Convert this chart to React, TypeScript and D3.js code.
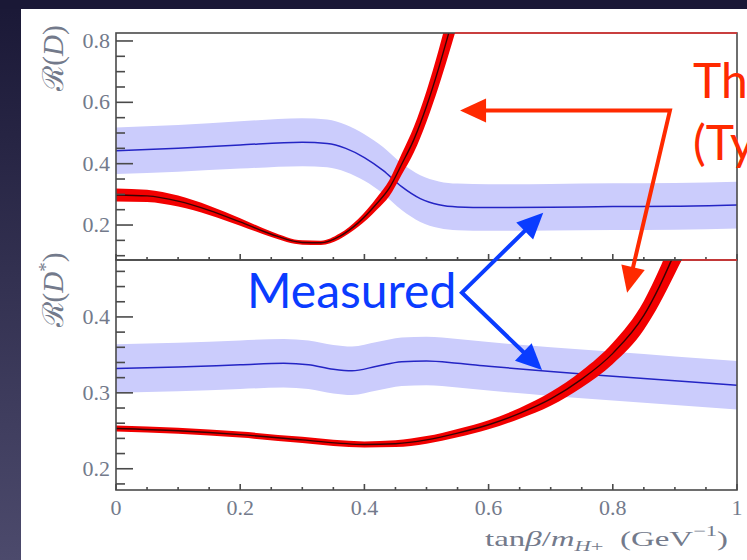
import React from 'react';
import * as d3 from 'd3';

// R(D) panel (top)
const upperMeasX = [0, 0.1, 0.2, 0.3, 0.34, 0.37, 0.4, 0.43, 0.46, 0.49, 0.52, 0.55, 0.6, 0.7, 0.8, 0.9, 1];
const upperMeasY = [0.442, 0.45, 0.461, 0.47, 0.466, 0.45, 0.42, 0.378, 0.325, 0.286, 0.266, 0.259, 0.257, 0.258, 0.26, 0.261, 0.265];
const upperMeasErr = [0.076, 0.076, 0.077, 0.078, 0.078, 0.077, 0.076, 0.076, 0.076, 0.076, 0.076, 0.076, 0.076, 0.076, 0.076, 0.076, 0.076];

const upperTheoX = [0, 0.05, 0.1, 0.15, 0.2, 0.25, 0.3, 0.33, 0.36, 0.39, 0.42, 0.44, 0.46, 0.48, 0.5, 0.52, 0.535, 0.55, 0.57];
const upperTheoY = [0.298, 0.295, 0.278, 0.248, 0.21, 0.17, 0.143, 0.142, 0.163, 0.207, 0.27, 0.32, 0.398, 0.48, 0.587, 0.714, 0.82, 0.93, 1.08];
const upperTheoErr = [0.021, 0.02, 0.018, 0.015, 0.012, 0.009, 0.007, 0.007, 0.009, 0.013, 0.02, 0.026, 0.034, 0.042, 0.05, 0.06, 0.068, 0.076, 0.088];

// R(D*) panel (bottom)
const lowerMeasX = [0, 0.1, 0.2, 0.27, 0.31, 0.35, 0.38, 0.42, 0.46, 0.5, 0.55, 0.6, 0.7, 0.8, 0.9, 1];
const lowerMeasY = [0.332, 0.334, 0.337, 0.339, 0.337, 0.331, 0.329, 0.335, 0.341, 0.342, 0.339, 0.335, 0.328, 0.322, 0.316, 0.31];
const lowerMeasErr = [0.032, 0.032, 0.032, 0.032, 0.032, 0.032, 0.032, 0.032, 0.032, 0.032, 0.032, 0.032, 0.032, 0.032, 0.032, 0.032];

const lowerTheoX = [0, 0.1, 0.2, 0.3, 0.4, 0.45, 0.5, 0.55, 0.6, 0.65, 0.7, 0.75, 0.8, 0.85, 0.875, 0.9, 0.93];
const lowerTheoY = [0.253, 0.25, 0.245, 0.238, 0.232, 0.233, 0.238, 0.247, 0.258, 0.273, 0.292, 0.318, 0.352, 0.402, 0.44, 0.485, 0.54];
const lowerTheoErr = [0.004, 0.004, 0.004, 0.004, 0.004, 0.0045, 0.005, 0.0055, 0.006, 0.007, 0.009, 0.011, 0.014, 0.019, 0.023, 0.028, 0.034];

const xTicks = [0, 0.2, 0.4, 0.6, 0.8, 1];
const xTickLabels = ['0', '0.2', '0.4', '0.6', '0.8', '1'];
const upperYTicks = [0.2, 0.4, 0.6, 0.8];
const upperYLabels = ['0.2', '0.4', '0.6', '0.8'];
const lowerYTicks = [0.2, 0.3, 0.4];
const lowerYLabels = ['0.2', '0.3', '0.4'];

// annotation anchors, in data coordinates
const redArrowCorner = { x: 0.892, y: 0.573 }; // upper panel
const redArrowTipUpper = { x: 0.554, y: 0.573 }; // upper panel
const redArrowTipLower = { x: 0.823, y: 0.432 }; // lower panel
const blueVertex = { x: 0.557, y: 0.432 }; // lower panel
const blueTipUpper = { x: 0.688, y: 0.24 }; // upper panel
const blueTipLower = { x: 0.686, y: 0.33 }; // lower panel

const W = 747;
const H = 560;
const F = { left: 116, right: 737, top: 33, mid: 260, bottom: 490 };

const LABEL = '#737a8b';
const AXIS = '#4a4a4a';
const RED = '#ff2a00';
const BLUE = '#0a3cff';
const SERIF = '"Liberation Serif", "DejaVu Serif", serif';
const SANS = "Lato, 'Open Sans', sans-serif";

const xScale = d3.scaleLinear().domain([0, 1]).range([F.left, F.right]);
const yUpper = d3.scaleLinear().domain([0.086, 0.826]).range([F.mid, F.top]);
const yLower = d3.scaleLinear().domain([0.172, 0.475]).range([F.bottom, F.mid]);

const arrowHead = (x1: number, y1: number, x2: number, y2: number, len = 26, half = 12) => {
  const a = Math.atan2(y2 - y1, x2 - x1);
  const bx = x2 - len * Math.cos(a);
  const by = y2 - len * Math.sin(a);
  const px = -Math.sin(a) * half;
  const py = Math.cos(a) * half;
  return `M${x2},${y2}L${bx + px},${by + py}L${bx - px},${by - py}Z`;
};

type PanelProps = {
  id: string;
  y: d3.ScaleLinear<number, number>;
  top: number;
  bottom: number;
  measX: number[]; measY: number[]; measErr: number[];
  theoX: number[]; theoY: number[]; theoErr: number[];
  majors: number[]; labels: string[];
  minorStart: number; minorStep: number;
};

const Panel = (p: PanelProps) => {
  const idx = (a: number[]) => a.map((_, i) => i);
  const band = (xs: number[], ys: number[], es: number[]) =>
    d3.area<number>()
      .x(i => xScale(xs[i]))
      .y0(i => p.y(ys[i] - es[i]))
      .y1(i => p.y(ys[i] + es[i]))
      .curve(d3.curveMonotoneX)(idx(xs)) || '';
  const line = (xs: number[], ys: number[]) =>
    d3.line<number>()
      .x(i => xScale(xs[i]))
      .y(i => p.y(ys[i]))
      .curve(d3.curveMonotoneX)(idx(xs)) || '';

  // where the lower edge of the theory band leaves the frame
  const topVal = p.y.domain()[1];
  let exitX = 1;
  for (let i = 1; i < p.theoX.length; i++) {
    const a = p.theoY[i - 1] - p.theoErr[i - 1];
    const b = p.theoY[i] - p.theoErr[i];
    if (a < topVal && b >= topVal) {
      exitX = p.theoX[i - 1] + (p.theoX[i] - p.theoX[i - 1]) * (topVal - a) / (b - a);
      break;
    }
  }

  const minors = d3.range(p.minorStart, topVal, p.minorStep).map(v => Math.round(v * 1000) / 1000);
  const xMinors = d3.range(0, 1.0001, 0.05).map(v => Math.round(v * 100) / 100);

  return (
    <g>
      <defs>
        <clipPath id={p.id}>
          <rect x={F.left} y={p.top} width={F.right - F.left} height={p.bottom - p.top} />
        </clipPath>
      </defs>
      <g clipPath={`url(#${p.id})`}>
        <path d={band(p.measX, p.measY, p.measErr)} fill="#cbccfc" />
        <path d={line(p.measX, p.measY)} fill="none" stroke="#2424c4" strokeWidth={1.5} />
        <path d={band(p.theoX, p.theoY, p.theoErr)} fill="#f20000" />
        <path d={line(p.theoX, p.theoY)} fill="none" stroke="#1a0404" strokeWidth={1.4} strokeOpacity={0.85} />
      </g>
      <rect x={F.left} y={p.top} width={F.right - F.left} height={p.bottom - p.top}
        fill="none" stroke={AXIS} strokeWidth={1.6} />
      <line x1={xScale(exitX)} x2={F.right} y1={p.top} y2={p.top} stroke="#e83030" strokeWidth={1.6} />
      {minors.map(v => {
        const major = p.majors.some(m => Math.abs(m - v) < 1e-6);
        return (
          <line key={v} x1={F.left} x2={F.left + (major ? 17 : 9)} y1={p.y(v)} y2={p.y(v)}
            stroke={AXIS} strokeWidth={1.6} />
        );
      })}
      {xMinors.map(v => {
        const major = xTicks.some(m => Math.abs(m - v) < 1e-6);
        return (
          <line key={v} x1={xScale(v)} x2={xScale(v)} y1={p.bottom} y2={p.bottom - (major ? 6 : 3)}
            stroke={AXIS} strokeWidth={1.6} />
        );
      })}
      {p.majors.map((v, i) => (
        <text key={v} x={110} y={p.y(v) + 7} textAnchor="end" fontSize={22} fontFamily={SERIF} fill={LABEL}>
          {p.labels[i]}
        </text>
      ))}
    </g>
  );
};

const App = () => {
  const rc = { x: xScale(redArrowCorner.x), y: yUpper(redArrowCorner.y) };
  const rt1 = { x: xScale(redArrowTipUpper.x), y: yUpper(redArrowTipUpper.y) };
  const rt2 = { x: xScale(redArrowTipLower.x), y: yLower(redArrowTipLower.y) };
  const bv = { x: xScale(blueVertex.x), y: yLower(blueVertex.y) };
  const bt1 = { x: xScale(blueTipUpper.x), y: yUpper(blueTipUpper.y) };
  const bt2 = { x: xScale(blueTipLower.x), y: yLower(blueTipLower.y) };

  // shorten a shaft so it stops inside its arrow head
  const shaftEnd = (a: { x: number; y: number }, b: { x: number; y: number }, cut = 18) => {
    const d = Math.hypot(b.x - a.x, b.y - a.y);
    return { x: b.x - (b.x - a.x) * cut / d, y: b.y - (b.y - a.y) * cut / d };
  };
  const r1e = shaftEnd(rc, rt1);
  const r2e = shaftEnd(rc, rt2);
  const b1e = shaftEnd(bv, bt1);
  const b2e = shaftEnd(bv, bt2);

  return (
    <div style={{ position: 'fixed', left: 0, top: 0, width: W, height: H, overflow: 'hidden', background: '#ffffff' }}>
      <style>{'html,body{margin:0;overflow:hidden;background:#ffffff;}'}</style>
      <svg width={W} height={H} style={{ display: 'block' }}>
        <defs>
          <linearGradient id="bg" x1="0" y1="0" x2="0" y2="1">
            <stop offset="0" stopColor="#1a1836" />
            <stop offset="1" stopColor="#4c4a6c" />
          </linearGradient>
        </defs>
        <rect x={0} y={0} width={21} height={H} fill="url(#bg)" />
        <rect x={0} y={0} width={W} height={9} fill="#1a1836" />
        <rect x={21} y={9} width={W - 21} height={H} fill="#ffffff" />

        <Panel id="clipUpper" y={yUpper} top={F.top} bottom={F.mid}
          measX={upperMeasX} measY={upperMeasY} measErr={upperMeasErr}
          theoX={upperTheoX} theoY={upperTheoY} theoErr={upperTheoErr}
          majors={upperYTicks} labels={upperYLabels} minorStart={0.1} minorStep={0.05} />
        <Panel id="clipLower" y={yLower} top={F.mid} bottom={F.bottom}
          measX={lowerMeasX} measY={lowerMeasY} measErr={lowerMeasErr}
          theoX={lowerTheoX} theoY={lowerTheoY} theoErr={lowerTheoErr}
          majors={lowerYTicks} labels={lowerYLabels} minorStart={0.18} minorStep={0.02} />

        {/* x tick labels */}
        {xTicks.map((v, i) => (
          <text key={v} x={xScale(v)} y={515} textAnchor="middle" fontSize={22} fontFamily={SERIF} fill={LABEL}>
            {xTickLabels[i]}
          </text>
        ))}
        <text x={485} y={546} textLength={243} lengthAdjust="spacingAndGlyphs" fontSize={22} fontFamily={SERIF} fill={LABEL}>
          tan<tspan fontStyle="italic">β</tspan>/<tspan fontStyle="italic">m</tspan>
          <tspan fontSize={15} dy={5}><tspan fontStyle="italic">H</tspan>+</tspan>
          <tspan dy={-5}>{'\u00a0\u00a0(GeV'}</tspan>
          <tspan fontSize={15} dy={-10}>−1</tspan>
          <tspan dy={10}>)</tspan>
        </text>

        {/* y titles */}
        <text transform="translate(63,58) rotate(-90)" textAnchor="middle" fontSize={29} fontFamily={SERIF} fill={LABEL}>
          ℛ(<tspan fontStyle="italic">D</tspan>)
        </text>
        <text transform="translate(63,290) rotate(-90)" textAnchor="middle" fontSize={29} fontFamily={SERIF} fill={LABEL}>
          ℛ(<tspan fontStyle="italic">D</tspan><tspan fontSize={19} dy={-11}>*</tspan><tspan dy={11}>)</tspan>
        </text>

        {/* theory annotation */}
        <polyline points={`${r1e.x},${r1e.y} ${rc.x},${rc.y} ${r2e.x},${r2e.y}`}
          fill="none" stroke={RED} strokeWidth={4} strokeLinejoin="miter" />
        <path d={arrowHead(rc.x, rc.y, rt1.x, rt1.y)} fill={RED} />
        <path d={arrowHead(rc.x, rc.y, rt2.x, rt2.y)} fill={RED} />
        <text x={693} y={98} fontSize={48} fontFamily={SANS} fill={RED}>Theory</text>
        <text x={693} y={160} fontSize={48} fontFamily={SANS} fill={RED}>(Type II 2HDM)</text>

        {/* measured annotation */}
        <polyline points={`${b1e.x},${b1e.y} ${bv.x},${bv.y} ${b2e.x},${b2e.y}`}
          fill="none" stroke={BLUE} strokeWidth={4} strokeLinejoin="miter" />
        <path d={arrowHead(bv.x, bv.y, bt1.x, bt1.y)} fill={BLUE} />
        <path d={arrowHead(bv.x, bv.y, bt2.x, bt2.y)} fill={BLUE} />
        <text x={247} y={308} fontSize={48} fontFamily={SANS} fill={BLUE}>Measured</text>
      </svg>
    </div>
  );
};

export default App;
